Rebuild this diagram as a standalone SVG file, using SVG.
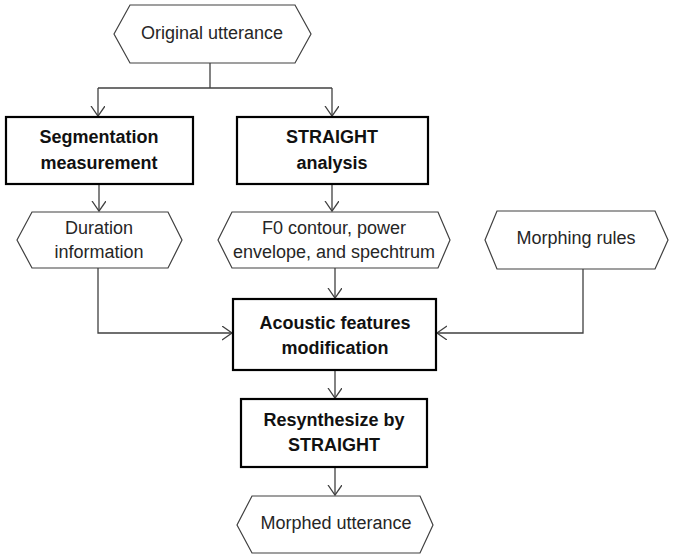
<svg xmlns="http://www.w3.org/2000/svg" width="674" height="555" viewBox="0 0 674 555">
  <defs>
    <marker id="open" markerWidth="16" markerHeight="16" refX="10" refY="7" orient="auto" markerUnits="userSpaceOnUse">
      <path d="M0,0 L10,7 L0,14" fill="none" stroke="#404040" stroke-width="1.3"/>
    </marker>
  </defs>
  <style>
    .hex { fill: #ffffff; stroke: #404040; stroke-width: 1.2; }
    .box { fill: #ffffff; stroke: #000000; stroke-width: 2.2; }
    .lbl { font-family: "Liberation Sans", Arial, sans-serif; font-size: 18px; fill: #262626; text-anchor: middle; }
    .bold { font-family: "Liberation Sans", Arial, sans-serif; font-size: 18px; font-weight: bold; fill: #111111; text-anchor: middle; }
    .wire { fill: none; stroke: #404040; stroke-width: 1.3; }
  </style>
  <rect width="674" height="555" fill="#ffffff"/>

  <!-- connectors -->
  <g id="connectors">
    <path class="wire" d="M210,63 V88"/>
    <path class="wire" d="M98,88 H332"/>
    <path class="wire" d="M98,88 V116" marker-end="url(#open)"/>
    <path class="wire" d="M332,88 V116" marker-end="url(#open)"/>
    <path class="wire" d="M99,184 V211" marker-end="url(#open)"/>
    <path class="wire" d="M332,184 V211" marker-end="url(#open)"/>
    <path class="wire" d="M335,268 V298" marker-end="url(#open)"/>
    <path class="wire" d="M98,268 V333 H232" marker-end="url(#open)"/>
    <path class="wire" d="M583,269 V333 H437" marker-end="url(#open)"/>
    <path class="wire" d="M335,370 V398" marker-end="url(#open)"/>
    <path class="wire" d="M335,467 V495" marker-end="url(#open)"/>
  </g>

  <g id="original-utterance">
    <polygon class="hex" points="114,34 130,5 295,5 311,34 295,63 130,63"/>
    <text class="lbl" x="212" y="39">Original utterance</text>
  </g>

  <g id="segmentation-measurement">
    <rect class="box" x="6" y="117" width="187" height="67"/>
    <text class="bold" x="99" y="143">Segmentation</text>
    <text class="bold" x="99" y="169">measurement</text>
  </g>

  <g id="straight-analysis">
    <rect class="box" x="237" y="117" width="191" height="67"/>
    <text class="bold" x="332" y="143">STRAIGHT</text>
    <text class="bold" x="332" y="169">analysis</text>
  </g>

  <g id="duration-information">
    <polygon class="hex" points="17,240 32,212 168,212 182,240 168,268 32,268"/>
    <text class="lbl" x="99" y="234">Duration</text>
    <text class="lbl" x="99" y="258">information</text>
  </g>

  <g id="f0-power-spectrum">
    <polygon class="hex" points="218,240 232,212 438,212 450,240 438,268 232,268"/>
    <text class="lbl" x="334" y="234">F0 contour, power</text>
    <text class="lbl" x="334" y="258">envelope, and spechtrum</text>
  </g>

  <g id="morphing-rules">
    <polygon class="hex" points="485,240 497,211 655,211 668,240 655,269 497,269"/>
    <text class="lbl" x="576" y="244">Morphing rules</text>
  </g>

  <g id="acoustic-features-modification">
    <rect class="box" x="233" y="299" width="203" height="71"/>
    <text class="bold" x="335" y="329">Acoustic features</text>
    <text class="bold" x="335" y="354">modification</text>
  </g>

  <g id="resynthesize">
    <rect class="box" x="241" y="399" width="186" height="68"/>
    <text class="bold" x="334" y="426">Resynthesize by</text>
    <text class="bold" x="334" y="451">STRAIGHT</text>
  </g>

  <g id="morphed-utterance">
    <polygon class="hex" points="237,525 252,496 420,496 433,525 420,553 252,553"/>
    <text class="lbl" x="336" y="529">Morphed utterance</text>
  </g>
</svg>
